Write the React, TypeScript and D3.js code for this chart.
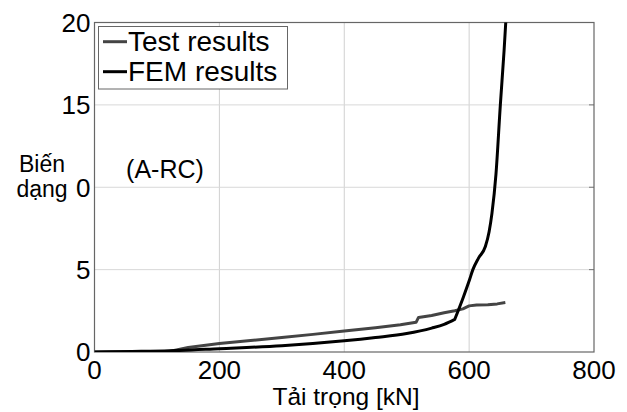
import React from "react";
import * as d3 from "d3";

const testLoad = [0, 60, 120, 150, 200, 250, 300, 350, 400, 450, 490, 515, 519, 540, 560, 577, 590, 600, 612, 630, 645, 658];
const testDef = [0, 0.01, 0.03, 0.27, 0.52, 0.7, 0.88, 1.07, 1.27, 1.47, 1.65, 1.8, 2.1, 2.22, 2.38, 2.5, 2.62, 2.8, 2.85, 2.87, 2.92, 3.0];

const femLoadPre = [0, 60, 120, 200, 300, 400, 450, 500, 540, 560, 577];
const femDefPre = [0, 0.03, 0.07, 0.2, 0.38, 0.68, 0.88, 1.12, 1.45, 1.68, 1.98];
const femLoadPost = [577, 591, 600.5, 606, 615, 626, 632, 636.5, 643, 650, 656, 661];
const femDefPost = [1.98, 3.36, 4.37, 5.0, 5.7, 6.4, 7.3, 8.4, 10.8, 15, 18.3, 21.5];

const xTicks = [0, 200, 400, 600, 800];
const xTickLabels = ["0", "200", "400", "600", "800"];
const yTicks = [0, 5, 10, 15, 20];
const yTickLabels = ["0", "5", "0", "15", "20"];

const seriesNames = ["Test results", "FEM results"];

export default function App() {
  const W = 627, H = 412;
  const x = d3.scaleLinear().domain([0, 800]).range([94.5, 594]);
  const y = d3.scaleLinear().domain([0, 20]).range([352, 22.5]);
  const line = d3.line<[number, number]>().x(d => x(d[0])).y(d => y(d[1]));
  const smooth = d3.line<[number, number]>().x(d => x(d[0])).y(d => y(d[1])).curve(d3.curveMonotoneX);
  const testPts = testLoad.map((v, i) => [v, testDef[i]] as [number, number]);
  const femPre = femLoadPre.map((v, i) => [v, femDefPre[i]] as [number, number]);
  const femPost = femLoadPost.map((v, i) => [v, femDefPost[i]] as [number, number]);
  const font = "'Liberation Sans', Arial, sans-serif";
  const [x0, x1] = x.range();
  const [y0, y1] = y.range();
  const femPath = (smooth(femPre) || "") + (smooth(femPost) || "").replace(/^M[^A-Za-z]*/, "L" + x(577) + "," + y(1.98));
  return (
    <svg width={W} height={H} style={{ position: "absolute", left: 0, top: 0, background: "#fff" }} fontFamily={font}>
      <defs>
        <clipPath id="plot">
          <rect x={x0} y={y1} width={x1 - x0} height={y0 - y1} />
        </clipPath>
      </defs>
      {xTicks.slice(1, -1).map(t => (
        <line key={"gx" + t} x1={x(t)} x2={x(t)} y1={y1} y2={y0} stroke="#d0d0d0" strokeWidth={1} />
      ))}
      {yTicks.slice(1, -1).map(t => (
        <line key={"gy" + t} x1={x0} x2={x1} y1={y(t)} y2={y(t)} stroke="#d8d8d8" strokeWidth={1} />
      ))}
      {yTicks.slice(1, -1).map(t => (
        <line key={"ty" + t} x1={x1 - 5} x2={x1} y1={y(t)} y2={y(t)} stroke="#777" strokeWidth={1} />
      ))}
      <rect x={x0} y={y1} width={x1 - x0} height={y0 - y1} fill="none" stroke="#666" strokeWidth={1.2} />
      <g clipPath="url(#plot)">
        <path d={line(testPts) || ""} fill="none" stroke="#444" strokeWidth={3} strokeLinejoin="round" />
        <path d={femPath} fill="none" stroke="#000" strokeWidth={3} strokeLinejoin="round" />
      </g>
      {yTicks.map((t, i) => (
        <text key={"yl" + t} x={x0 - 4} y={y(t)} dy="0.36em" textAnchor="end" fontSize={26} fill="#000">
          {yTickLabels[i]}
        </text>
      ))}
      {xTicks.map((t, i) => (
        <text key={"xl" + t} x={x(t)} y={378.5} textAnchor="middle" fontSize={26} fill="#000">
          {xTickLabels[i]}
        </text>
      ))}
      <text x={346} y={405} textAnchor="middle" fontSize={24.5} fill="#000">Tải trọng [kN]</text>
      <text x={42} y={172} textAnchor="middle" fontSize={23} fill="#000">Biến</text>
      <text x={42} y={197} textAnchor="middle" fontSize={23} fill="#000">dạng</text>
      <text x={165} y={178} textAnchor="middle" fontSize={25} fill="#000">(A-RC)</text>
      <rect x={98.5} y={26.5} width={189} height={62.5} fill="#fff" stroke="#666" strokeWidth={1} />
      <line x1={103} x2={127} y1={41.7} y2={41.7} stroke="#444" strokeWidth={3} />
      <line x1={103} x2={127} y1={71.7} y2={71.7} stroke="#000" strokeWidth={3} />
      <text x={128} y={51} fontSize={28} fill="#000">{seriesNames[0]}</text>
      <text x={128} y={81} fontSize={28} fill="#000">{seriesNames[1]}</text>
    </svg>
  );
}
